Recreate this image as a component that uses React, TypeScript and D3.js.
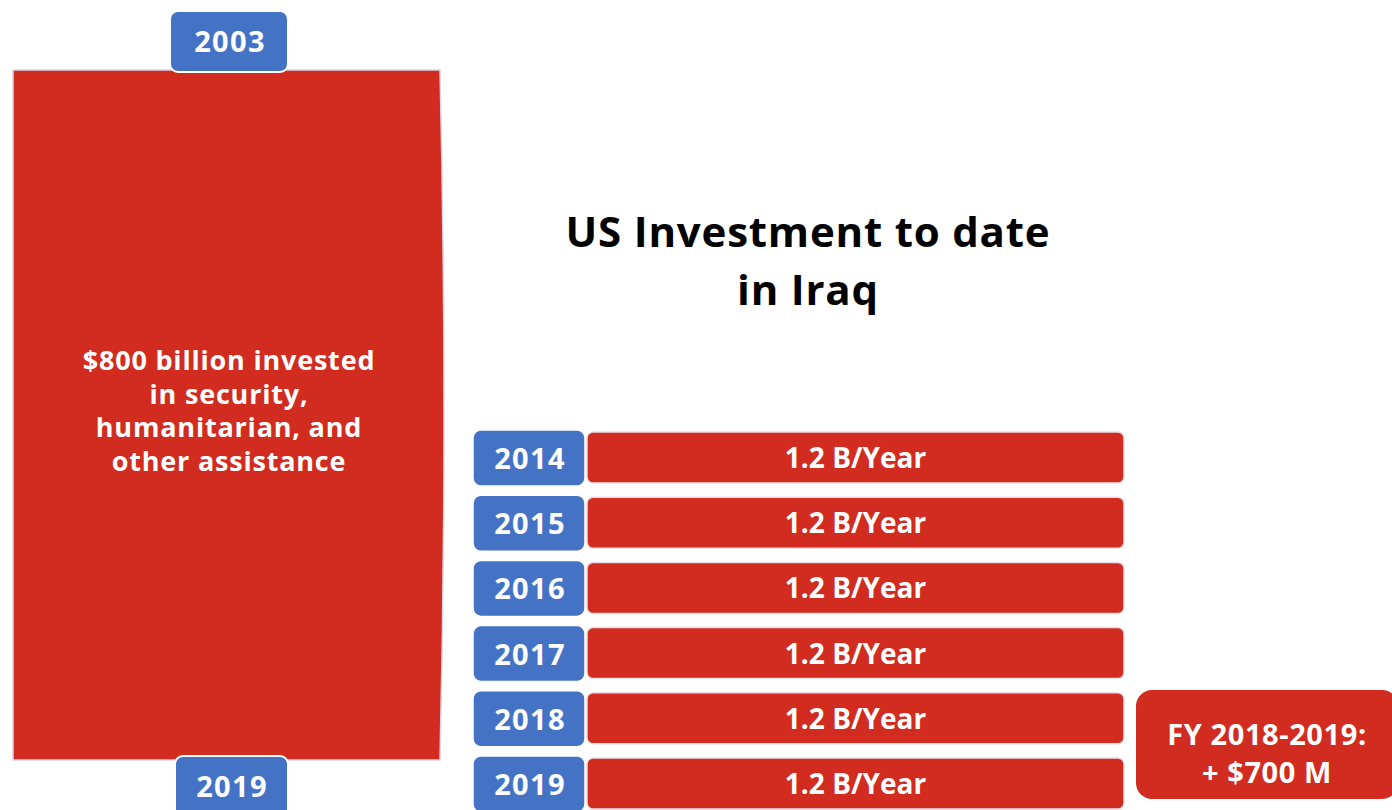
import * as d3 from "d3";

const title = ["US Investment to date", "in Iraq"];
const totalLines = ["$800 billion invested", "in security,", "humanitarian, and", "other assistance"];
const totalStart = "2003";
const totalEnd = "2019";
const years = ["2014", "2015", "2016", "2017", "2018", "2019"];
const perYear = [1.2, 1.2, 1.2, 1.2, 1.2, 1.2];
const extraLines = ["FY 2018-2019:", "+ $700 M"];

const W = 1392;
const H = 810;
const RED = "#d12c1f";
const BLUE = "#4473c5";
const FONT = "'Open Sans', 'Noto Sans', sans-serif";

export default function App() {
  // rows on the right
  const y = d3.scaleBand<string>().domain(years).range([430, 812]).paddingInner(0.14).paddingOuter(0);
  const x = d3.scaleLinear().domain([0, 1.2]).range([0, 537]);
  const yearX = 473;
  const yearW = 112;
  const barX = 587;

  const bigX0 = 13;
  const bigX1 = 440;
  const bigY0 = 70;
  const bigY1 = 760;
  const bigPath = `M${bigX0},${bigY0} L${bigX1},${bigY0} Q${bigX1 + 8},${(bigY0 + bigY1) / 2} ${bigX1},${bigY1} L${bigX0},${bigY1} Z`;

  return (
    <div style={{ position: "fixed", left: 0, top: 0 }}>
      <svg width={W} height={H} style={{ display: "block", background: "#fff" }} fontFamily={FONT} fontWeight={700}>
        <path d={bigPath} fill={RED} stroke="#d8d4e8" strokeWidth={1.5} />
        <rect x={170} y={11} width={118} height={61} rx={8} fill={BLUE} stroke="#fff" strokeWidth={2} />
        <text x={230} y={52} textAnchor="middle" fill="#fff" fontSize={29} letterSpacing={1.3}>{totalStart}</text>
        <rect x={175} y={756} width={113} height={70} rx={8} fill={BLUE} stroke="#fff" strokeWidth={2} />
        <text x={232} y={797} textAnchor="middle" fill="#fff" fontSize={29} letterSpacing={1.3}>{totalEnd}</text>
        {totalLines.map((t, i) => (
          <text key={t} x={229} y={370 + i * 33.7} textAnchor="middle" fill="#fff" fontSize={27} letterSpacing={0.8}>{t}</text>
        ))}

        {title.map((t, i) => (
          <text key={t} x={808} y={247 + i * 58} textAnchor="middle" fill="#000" fontSize={42} letterSpacing={0.8}>{t}</text>
        ))}

        {years.map((yr, i) => {
          const top = y(yr) ?? 0;
          const bh = y.bandwidth();
          return (
            <g key={yr}>
              <rect x={barX} y={top + 2} width={x(perYear[i])} height={bh - 5} rx={6} fill={RED} stroke="#e6dfe8" strokeWidth={1.5} />
              <text x={barX + x(perYear[i]) / 2} y={top + bh / 2 + 10} textAnchor="middle" fill="#fff" fontSize={28}>
                {perYear[i].toFixed(1)} B/Year
              </text>
              <rect x={yearX} y={top} width={yearW} height={bh} rx={8} fill={BLUE} stroke="#fff" strokeWidth={1.5} />
              <text x={yearX + yearW / 2 + 1} y={top + bh / 2 + 11} textAnchor="middle" fill="#fff" fontSize={29} letterSpacing={1.3}>{yr}</text>
            </g>
          );
        })}

        <rect x={1136} y={690} width={262} height={109} rx={16} fill={RED} />
        {extraLines.map((t, i) => (
          <text key={t} x={1267} y={745 + i * 38} textAnchor="middle" fill="#fff" fontSize={29} letterSpacing={0.6}>{t}</text>
        ))}
      </svg>
    </div>
  );
}
